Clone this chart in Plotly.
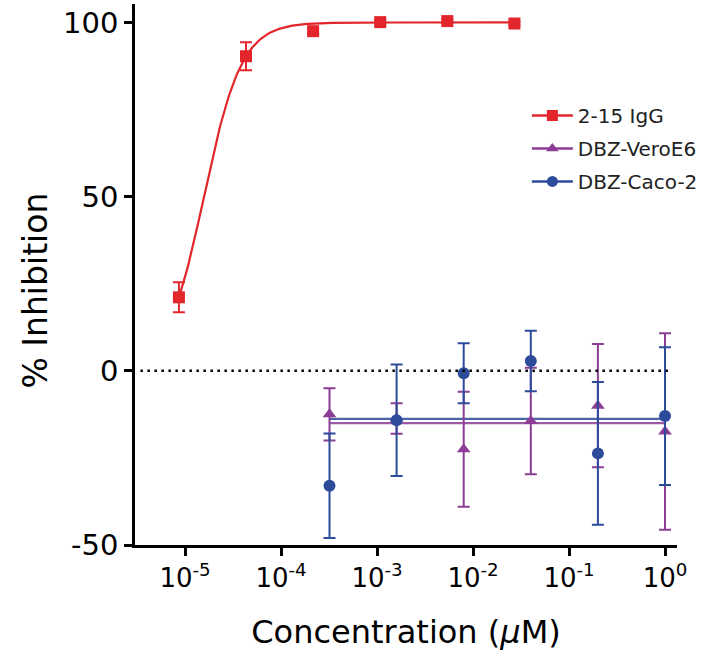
import numpy as np
import plotly.graph_objects as go

# ---- data ----
igg_conc = [8.64e-6, 4.32e-5, 2.16e-4, 1.08e-3, 5.4e-3, 2.7e-2]
igg_inh = [21.1, 90.3, 97.5, 100.1, 100.4, 99.7]
igg_err = [4.3, 4.0, 0.8, 0.5, 0.5, 0.5]

dbz_conc = [3.2e-4, 1.6e-3, 8e-3, 4e-2, 0.2, 1.0]
vero_inh = [-12.5, -13.7, -22.5, -14.4, -10.0, -17.4]
vero_err = [7.5, 4.4, 16.5, 15.3, 17.7, 28.2]
caco_inh = [-33.0, -14.2, -0.7, 2.8, -23.7, -13.0]
caco_err = [15.0, 16.0, 8.6, 8.7, 20.5, 19.8]

# fitted models
igg_fit = dict(bottom=0.0, top=100.0, log_ic50=-4.803, hill=2.206)
vero_fit_level = -15.0
caco_fit_level = -13.8

tick_vals = [1e-5, 1e-4, 1e-3, 1e-2, 1e-1, 1e0]
tick_text = ["10<sup>-5</sup>", "10<sup>-4</sup>", "10<sup>-3</sup>",
             "10<sup>-2</sup>", "10<sup>-1</sup>", "10<sup>0</sup>"]
y_ticks = [-50, 0, 50, 100]
y_tick_text = ["-50", "0", "50", "100"]

RED = "#E2262C"
PURPLE = "#8C3D95"
BLUE = "#2D4B9B"
FONT = "DejaVu Sans, Liberation Sans, Arial, sans-serif"

fig = go.Figure()

# zero reference line
fig.add_shape(type="line", xref="paper", yref="y", x0=0.01, x1=0.99, y0=0, y1=0,
              line=dict(color="black", width=2.5, dash="2.5px,4.5px"))

# fitted curve for IgG
lx = np.linspace(np.log10(igg_conc[0]), np.log10(igg_conc[-1]), 300)
p = igg_fit
curve = p["bottom"] + (p["top"] - p["bottom"]) / (1 + 10 ** ((p["log_ic50"] - lx) * p["hill"]))
fig.add_trace(go.Scatter(x=10 ** lx, y=curve, mode="lines",
                         line=dict(color=RED, width=2.2), showlegend=False, hoverinfo="skip"))

# flat fits
fig.add_trace(go.Scatter(x=[dbz_conc[0], dbz_conc[-1]], y=[vero_fit_level] * 2, mode="lines",
                         line=dict(color=PURPLE, width=2.2), opacity=0.85, showlegend=False))
fig.add_trace(go.Scatter(x=[dbz_conc[0], dbz_conc[-1]], y=[caco_fit_level] * 2, mode="lines",
                         line=dict(color=BLUE, width=2.2), opacity=0.85, showlegend=False))

# data points with error bars
fig.add_trace(go.Scatter(x=dbz_conc, y=vero_inh, mode="markers",
                         marker=dict(symbol="triangle-up", size=12, color=PURPLE),
                         error_y=dict(type="data", array=vero_err, color=PURPLE, thickness=2, width=6),
                         showlegend=False))
fig.add_trace(go.Scatter(x=dbz_conc, y=caco_inh, mode="markers",
                         marker=dict(symbol="circle", size=12, color=BLUE),
                         error_y=dict(type="data", array=caco_err, color=BLUE, thickness=2, width=6),
                         showlegend=False))
fig.add_trace(go.Scatter(x=igg_conc, y=igg_inh, mode="markers",
                         marker=dict(symbol="square", size=12, color=RED),
                         error_y=dict(type="data", array=igg_err, color=RED, thickness=2, width=6),
                         showlegend=False))

# legend entries
for name, col, sym in [("2-15 IgG", RED, "square"),
                       ("DBZ-VeroE6", PURPLE, "triangle-up"),
                       ("DBZ-Caco-2", BLUE, "circle")]:
    fig.add_trace(go.Scatter(x=[None], y=[None], mode="lines+markers", name=name,
                             legendgroup=name,
                             line=dict(color=col, width=2.5),
                             marker=dict(symbol=sym, size=11, color=col)))

# y-axis title placed as a rotated annotation (sits slightly below the axis centre)
fig.add_annotation(text="% Inhibition", xref="paper", yref="paper",
                   x=-0.183, y=0.47, xanchor="center", yanchor="middle",
                   textangle=-90, showarrow=False, font=dict(size=33))

fig.update_layout(
    width=707, height=664,
    margin=dict(l=135, r=30, t=4, b=119),
    plot_bgcolor="white", paper_bgcolor="white",
    font=dict(family=FONT, color="black"),
    legend=dict(x=0.723, y=0.83, xanchor="left", yanchor="top",
                font=dict(size=20, color="#222"), traceorder="grouped",
                itemwidth=41, tracegroupgap=4, bgcolor="rgba(0,0,0,0)"),
    xaxis=dict(type="log", range=[-5.521, 0.125], tickmode="array",
               tickvals=tick_vals, ticktext=tick_text,
               showline=True, linecolor="black", linewidth=2.5,
               ticks="outside", ticklen=8, tickwidth=2.5, tickcolor="black",
               showgrid=False, zeroline=False,
               tickfont=dict(size=26),
               title=dict(text="Concentration (<i>µ</i>M)", font=dict(size=32), standoff=29)),
    yaxis=dict(range=[-50, 105.3], tickmode="array", tickvals=y_ticks, ticktext=y_tick_text,
               showline=True, linecolor="black", linewidth=2.5,
               ticks="outside", ticklen=8, tickwidth=2.5, tickcolor="black",
               showgrid=False, zeroline=False,
               tickfont=dict(size=29)),
)

fig.write_html("out.html", config={"displayModeBar": False},
               post_script="document.body.style.margin='0px';")
